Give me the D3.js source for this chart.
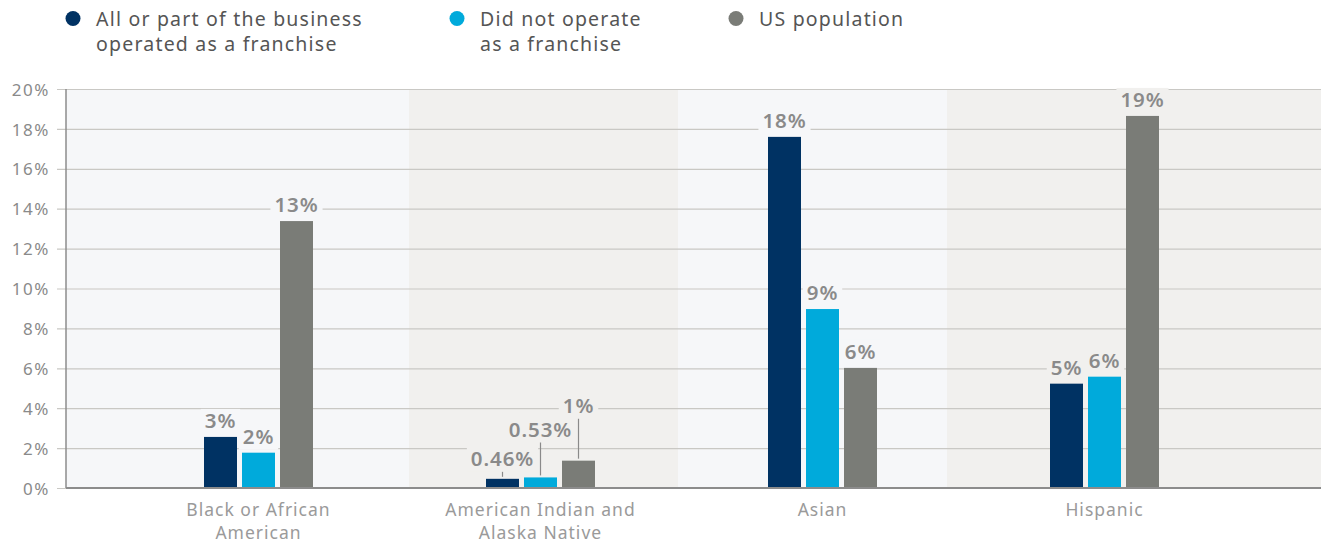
<!DOCTYPE html>
<html>
<head>
<meta charset="utf-8">
<script src="https://cdn.jsdelivr.net/npm/d3@7"></script>
<style>
  html, body { margin: 0; padding: 0; background: #ffffff; }
  svg { display: block; font-family: "Noto Sans", "Open Sans", sans-serif; }
</style>
</head>
<body>
<svg id="chart" width="1321" height="543"></svg>
<script>
// ---- data ----
const categories = ["Black or African American", "American Indian and Alaska Native", "Asian", "Hispanic"];
const categoryLines = [["Black or African", "American"], ["American Indian and", "Alaska Native"], ["Asian"], ["Hispanic"]];
const seriesNames = ["All or part of the business operated as a franchise", "Did not operate as a franchise", "US population"];
const legendLines = [["All or part of the business", "operated as a franchise"], ["Did not operate", "as a franchise"], ["US population"]];
const franchiseValues = [2.56, 0.46, 17.6, 5.23];
const nonFranchiseValues = [1.77, 0.53, 8.97, 5.58];
const populationValues = [13.38, 1.37, 6.02, 18.65];
const yTicks = [0, 2, 4, 6, 8, 10, 12, 14, 16, 18, 20];

// ---- styling ----
const seriesColors = ["#003263", "#00aadb", "#7a7c77"];
const bandColors = ["#f6f7f9", "#f1f0ee", "#f6f7f9", "#f1f0ee"];
const labelColor = "#8a8a8a";

const svg = d3.select("#chart");
const plot = { left: 66, right: 1321, top: 89, bottom: 488 };

const y = d3.scaleLinear().domain([0, 20]).range([plot.bottom, plot.top]);
const x = d3.scaleBand().domain(categories).range([117.5, 1245.5]).padding(0);
const groupWidth = 109;
const xInner = d3.scaleBand().domain(seriesNames).range([0, groupWidth]).paddingInner(5 / 38).paddingOuter(0);
const groupLeft = c => x(c) + (x.bandwidth() - groupWidth) / 2;

// background stripes behind each category group
const stripeEdges = [plot.left, 409, 678, 947, plot.right];
svg.append("g").selectAll("rect")
  .data(categories)
  .join("rect")
  .attr("x", (d, i) => stripeEdges[i])
  .attr("width", (d, i) => stripeEdges[i + 1] - stripeEdges[i])
  .attr("y", plot.top)
  .attr("height", plot.bottom - plot.top)
  .attr("fill", (d, i) => bandColors[i]);

// gridlines + y axis labels
const yAxis = d3.axisLeft(y)
  .tickValues(yTicks)
  .tickFormat(d => d + "%")
  .tickSize(0)
  .tickPadding(0);
const gy = svg.append("g").attr("transform", `translate(${plot.left - 9},0)`).call(yAxis);
gy.select(".domain").remove();
gy.selectAll(".tick line")
  .attr("x1", 0).attr("x2", plot.right - plot.left + 9)
  .attr("stroke", "#c9c8c4").attr("stroke-width", 1.2);
gy.selectAll(".tick text")
  .attr("x", -7)
  .attr("dy", "0.36em")
  .attr("fill", labelColor)
  .attr("font-size", 17)
  .attr("letter-spacing", 1.6)
  .style("font-family", "\"Noto Sans\", sans-serif");

// vertical axis line
svg.append("line")
  .attr("x1", plot.left).attr("x2", plot.left)
  .attr("y1", plot.top).attr("y2", plot.bottom)
  .attr("stroke", "#8c8c8c").attr("stroke-width", 1.5);

// bars
const rows = categories.map((c, i) => ({
  category: c,
  index: i,
  values: [franchiseValues[i], nonFranchiseValues[i], populationValues[i]]
}));

const groups = svg.append("g").selectAll("g")
  .data(rows)
  .join("g")
  .attr("transform", d => `translate(${groupLeft(d.category)},0)`);

groups.selectAll("rect")
  .data(d => d.values.map((v, k) => ({ v, k, s: seriesNames[k], row: d })))
  .join("rect")
  .attr("x", d => xInner(d.s))
  .attr("width", xInner.bandwidth())
  .attr("y", d => y(d.v))
  .attr("height", d => y(0) - y(d.v))
  .attr("fill", d => seriesColors[d.k]);

// baseline
svg.append("line")
  .attr("x1", plot.left).attr("x2", plot.right)
  .attr("y1", plot.bottom).attr("y2", plot.bottom)
  .attr("stroke", "#8c8c8c").attr("stroke-width", 1.8);

// value labels
const fmt = v => (v < 1 ? v.toFixed(2) : d3.format(".0f")(v)) + "%";
// labels on the tiny American Indian bars are lifted (in value units) with a leader line
const liftedCategory = 1;
const lifts = [0.2, 1.6, 1.95];

const lg = svg.append("g");
rows.forEach(r => r.values.forEach((v, k) => {
  const cx = groupLeft(r.category) + xInner(seriesNames[k]) + xInner.bandwidth() / 2;
  const lift = r.index === liftedCategory ? lifts[k] : 0;
  const baseY = y(v + lift) - 9;
  if (lift > 0) {
    lg.append("line")
      .attr("x1", cx).attr("x2", cx)
      .attr("y1", y(v) - 2).attr("y2", baseY + 5)
      .attr("stroke", "#8a8a8a").attr("stroke-width", 1.2);
  }
  const t = lg.append("text")
    .attr("x", cx).attr("y", baseY)
    .attr("text-anchor", "middle")
    .attr("font-size", 20.5).attr("font-weight", 600)
    .attr("letter-spacing", 0.9)
    .attr("fill", labelColor)
    .text(fmt(v));
  const bb = t.node().getBBox();
  lg.insert("rect", () => t.node())
    .attr("x", bb.x - 4).attr("y", bb.y + 3)
    .attr("width", bb.width + 8).attr("height", bb.height - 3)
    .attr("fill", bandColors[r.index]);
}));

// category labels
const cl = svg.append("g").selectAll("text")
  .data(rows)
  .join("text")
  .attr("x", d => x(d.category) + x.bandwidth() / 2)
  .attr("y", 516)
  .attr("text-anchor", "middle")
  .attr("font-size", 17.5)
  .attr("letter-spacing", 1)
  .attr("fill", "#9a9a9a");
cl.selectAll("tspan")
  .data(d => categoryLines[d.index])
  .join("tspan")
  .attr("x", function () { return d3.select(this.parentNode).attr("x"); })
  .attr("dy", (d, i) => i === 0 ? 0 : 23)
  .text(d => d);

// legend
const legendX = [73, 457, 736];
const legend = svg.append("g").selectAll("g")
  .data(seriesNames)
  .join("g")
  .attr("transform", (d, i) => `translate(${legendX[i]},0)`);
legend.append("circle")
  .attr("cx", 0).attr("cy", 18.5).attr("r", 7.5)
  .attr("fill", (d, i) => seriesColors[i]);
legend.append("text")
  .attr("x", 23).attr("y", 26)
  .attr("font-size", 19.5)
  .attr("letter-spacing", 1.2)
  .attr("fill", "#555555")
  .selectAll("tspan")
  .data((d, i) => legendLines[i])
  .join("tspan")
  .attr("x", 23)
  .attr("dy", (d, i) => i === 0 ? 0 : 24.5)
  .text(d => d);
</script>
</body>
</html>
